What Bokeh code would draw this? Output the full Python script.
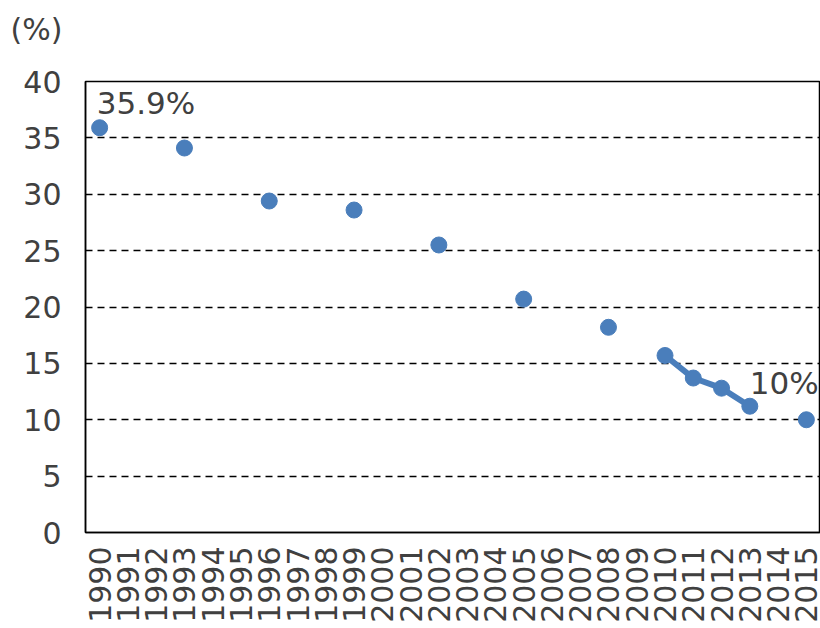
import math
from bokeh.plotting import figure
from bokeh.models import FactorRange, Range1d, Label, FixedTicker, Title
from bokeh.embed import file_html
from bokeh.resources import INLINE

years = [str(y) for y in range(1990, 2016)]
point_years = ["1990", "1993", "1996", "1999", "2002", "2005", "2008",
               "2010", "2011", "2012", "2013", "2015"]
point_values = [35.9, 34.1, 29.4, 28.6, 25.5, 20.7, 18.2, 15.7, 13.7, 12.8, 11.2, 10.0]
line_years = ["2010", "2011", "2012", "2013"]
line_values = [15.7, 13.7, 12.8, 11.2]
y_ticks = [0, 5, 10, 15, 20, 25, 30, 35, 40]

FONT = "DejaVu Sans"
TXT = "#404040"
BLUE = "#4a7ebb"

p = figure(width=820, height=628, x_range=FactorRange(*years, range_padding=0),
           y_range=Range1d(0, 40), output_backend="svg", toolbar_location=None,
           min_border_left=85, min_border_top=81, min_border_bottom=96, min_border_right=0)

p.outline_line_color = "black"
p.outline_line_width = 1.5

p.line(line_years, line_values, line_color=BLUE, line_width=6)
p.scatter(point_years, point_values, size=16, fill_color=BLUE, line_color=BLUE)

p.xgrid.visible = False
p.ygrid.grid_line_color = "black"
p.ygrid.grid_line_dash = "7 5"
p.ygrid.grid_line_width = 1.5
p.yaxis.ticker = FixedTicker(ticks=y_ticks)

for ax in (p.xaxis, p.yaxis):
    ax.axis_line_color = "black"
    ax.axis_line_width = 1.5
    ax.major_tick_line_color = None
    ax.minor_tick_line_color = None
    ax.major_tick_out = 0
    ax.major_tick_in = 0
    ax.major_label_text_font = FONT
    ax.major_label_text_color = TXT

p.yaxis.major_label_text_font_size = "30px"
p.yaxis.major_label_standoff = 24
p.xaxis.major_label_text_font_size = "30px"
p.xaxis.major_label_orientation = math.pi / 2
p.xaxis.major_label_standoff = 14

# unit label; a blank second line lifts it toward the top of the page
p.add_layout(Title(text="(%)\n\u00a0", align="left", offset=-75, standoff=0,
                   text_font=FONT, text_font_size="30px", text_font_style="normal",
                   text_color=TXT), "above")
p.add_layout(Label(x=0.4, y=38.1, text="35.9%", text_font=FONT, text_font_size="31px",
                   text_color=TXT, text_baseline="alphabetic", text_align="left"))
p.add_layout(Label(x=23.5, y=13.3, text="10%", text_font=FONT, text_font_size="31px",
                   text_color=TXT, text_baseline="alphabetic", text_align="left"))

open("out.html", "w").write(file_html(p, INLINE))
